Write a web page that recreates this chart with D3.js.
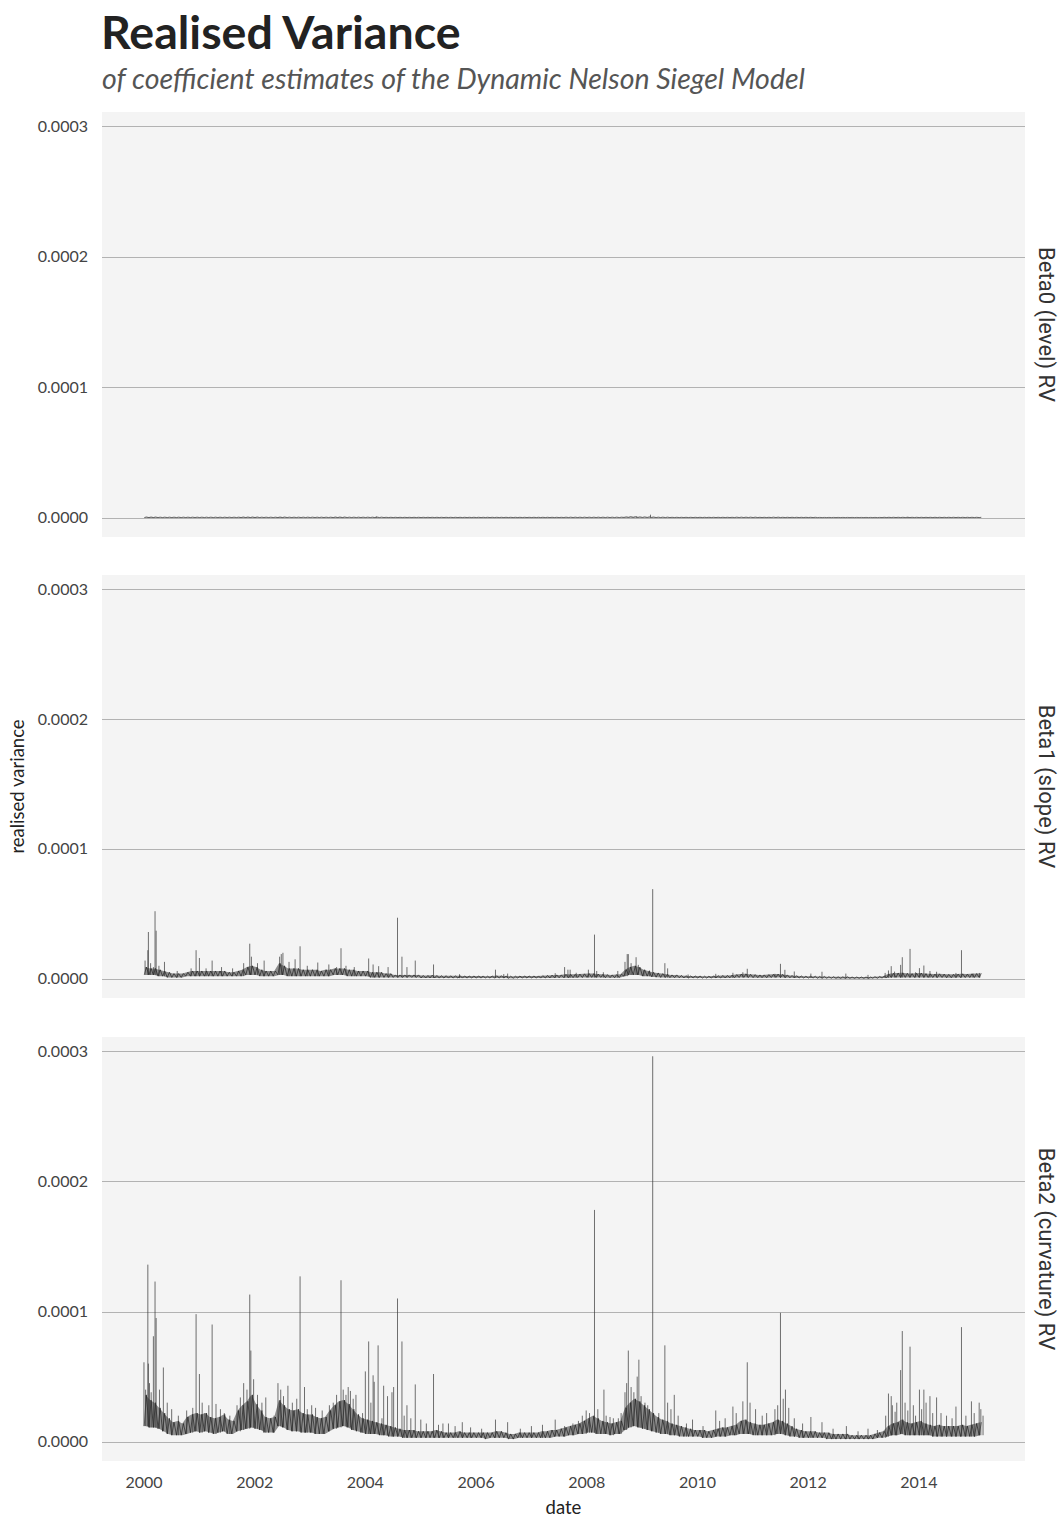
<!DOCTYPE html>
<html>
<head>
<meta charset="utf-8">
<script src="https://cdn.jsdelivr.net/npm/d3@7"></script>
<style>
  body { margin: 0; background: #fff; }
  .title { font-family: Lato; font-weight: 700; font-size: 46.5px; fill: #222; }
  .subtitle { font-family: Lato; font-style: italic; font-size: 28.5px; fill: #555; }
  .tick-label { font-family: Lato; font-size: 16px; fill: #444; }
  .axis-title { font-family: Lato; font-size: 18.5px; fill: #222; }
  .strip { font-family: Roboto; font-size: 22px; fill: #333; }
  .grid line { stroke: #b2b2b2; stroke-width: 1; }
  .band { fill: #8c8c8c; stroke: none; }
  .rv { fill: none; stroke: #111; stroke-width: 0.6; stroke-linejoin: round; }
  .spike { fill: none; stroke: #333; stroke-width: 0.7; }
</style>
</head>
<body>
<svg class="chart"></svg>
<script>
// values in units of 1e-6, one [low, high] pair per month, Jan 2000 .. Feb 2015
var facetLabels = ["Beta0 (level) RV", "Beta1 (slope) RV", "Beta2 (curvature) RV"];
var yTicks = [0, 0.0001, 0.0002, 0.0003];
var xTickYears = [2000, 2002, 2004, 2006, 2008, 2010, 2012, 2014];

var beta0Band = [
  [0.1,0.5],[0.1,0.5],[0.1,0.5],[0.1,0.4],[0.1,0.4],[0.1,0.4],[0.1,0.4],[0.1,0.4],[0.1,0.4],[0.1,0.4],[0.1,0.4],[0.1,0.4], // 2000
  [0.1,0.4],[0.1,0.4],[0.1,0.4],[0.1,0.4],[0.1,0.4],[0.1,0.4],[0.1,0.4],[0.1,0.4],[0.1,0.4],[0.1,0.5],[0.1,0.5],[0.1,0.5],
  [0.1,0.5],[0.1,0.4],[0.1,0.4],[0.1,0.4],[0.1,0.4],[0.1,0.5],[0.1,0.5],[0.1,0.4],[0.1,0.4],[0.1,0.4],[0.1,0.4],[0.1,0.4],
  [0.1,0.4],[0.1,0.4],[0.1,0.4],[0.1,0.4],[0.1,0.4],[0.1,0.5],[0.1,0.5],[0.1,0.5],[0.1,0.4],[0.1,0.4],[0.1,0.4],[0.1,0.4],
  [0.1,0.4],[0.1,0.4],[0.1,0.5],[0.1,0.4],[0.1,0.3],[0.1,0.3],[0.1,0.3],[0.1,0.3],[0.1,0.3],[0.1,0.3],[0.1,0.3],[0.1,0.3], // 2004
  [0.1,0.3],[0.1,0.3],[0.1,0.3],[0.1,0.3],[0.1,0.3],[0.1,0.3],[0.1,0.3],[0.1,0.3],[0.1,0.3],[0.1,0.3],[0.1,0.3],[0.1,0.3],
  [0.1,0.3],[0.1,0.3],[0.1,0.3],[0.1,0.3],[0.1,0.3],[0.1,0.3],[0.1,0.3],[0.1,0.3],[0.1,0.3],[0.1,0.3],[0.1,0.3],[0.1,0.3],
  [0.1,0.3],[0.1,0.3],[0.1,0.3],[0.1,0.3],[0.1,0.3],[0.1,0.3],[0.1,0.3],[0.1,0.4],[0.1,0.4],[0.1,0.4],[0.1,0.4],[0.1,0.4],
  [0.1,0.4],[0.1,0.4],[0.1,0.4],[0.1,0.4],[0.1,0.4],[0.1,0.4],[0.1,0.4],[0.1,0.4],[0.2,0.6],[0.2,0.7],[0.2,0.7],[0.2,0.6], // 2008
  [0.2,0.6],[0.2,0.6],[0.2,0.5],[0.1,0.4],[0.1,0.4],[0.1,0.4],[0.1,0.3],[0.1,0.3],[0.1,0.3],[0.1,0.3],[0.1,0.3],[0.1,0.3],
  [0.1,0.3],[0.1,0.3],[0.1,0.3],[0.1,0.3],[0.1,0.3],[0.1,0.3],[0.1,0.3],[0.1,0.3],[0.1,0.4],[0.1,0.4],[0.1,0.4],[0.1,0.4],
  [0.1,0.4],[0.1,0.3],[0.1,0.3],[0.1,0.3],[0.1,0.4],[0.1,0.4],[0.1,0.3],[0.1,0.3],[0.1,0.3],[0.1,0.3],[0.1,0.3],[0.1,0.3],
  [0.1,0.3],[0.1,0.3],[0.1,0.2],[0.1,0.2],[0.1,0.2],[0.1,0.2],[0.1,0.2],[0.1,0.2],[0.1,0.2],[0.1,0.2],[0.1,0.2],[0.1,0.2], // 2012
  [0.1,0.2],[0.1,0.2],[0.1,0.2],[0.1,0.2],[0.1,0.3],[0.1,0.3],[0.1,0.3],[0.1,0.3],[0.1,0.3],[0.1,0.3],[0.1,0.3],[0.1,0.3],
  [0.1,0.3],[0.1,0.3],[0.1,0.3],[0.1,0.3],[0.1,0.3],[0.1,0.3],[0.1,0.3],[0.1,0.3],[0.1,0.3],[0.1,0.3],[0.1,0.3],[0.1,0.3],
  [0.1,0.3],[0.1,0.3]
];
var beta0Spikes = [[2004.2, 0.8], [2008.9, 0.9], [2009.15, 2.3], [2013.8, 0.6]];

var beta1Band = [
  [3,9],[3,8],[3,8],[2,7],[2,6],[1,5],[1,4],[1,4],[1,4],[2,5],[2,6],[2,6], // 2000
  [2,6],[2,6],[2,6],[2,6],[2,6],[2,6],[2,5],[2,5],[2,6],[2,7],[3,9],[3,10],
  [3,9],[2,7],[2,6],[2,6],[2,6],[3,12],[3,10],[2,8],[2,8],[2,8],[2,7],[2,7],
  [2,7],[2,7],[2,6],[2,7],[2,7],[3,8],[3,8],[3,8],[2,7],[2,7],[2,6],[2,6],
  [2,6],[1,5],[1,5],[1,5],[1,4],[1,4],[1,3],[1,3],[1,3],[1,3],[1,3],[1,3], // 2004
  [0.6,2.6],[0.6,2.6],[0.6,2.8],[0.6,2.6],[0.5,2.4],[0.5,2.4],[0.5,2.3],[0.5,2.3],[0.5,2.4],[0.5,2.2],[0.5,2.2],[0.5,2.2],
  [0.5,2.2],[0.5,2.2],[0.5,2],[0.5,2.2],[0.5,2.4],[0.5,2.4],[0.5,2.2],[0.4,2],[0.4,2],[0.5,2.1],[0.5,2.2],[0.5,2.2],
  [0.5,2.2],[0.5,2.2],[0.5,2.4],[0.6,2.6],[0.6,2.8],[0.7,3],[0.7,3],[0.8,3.4],[0.8,3.4],[0.8,3.4],[0.9,3.6],[0.9,3.8],
  [1,4],[1,4],[1,3.6],[1,3.4],[0.8,3.2],[0.8,3],[0.8,3.2],[0.9,3.4],[2,7],[3,9],[3,10],[3,9], // 2008
  [2,7],[2,6],[1.5,5],[1.2,4.5],[1,4],[1,3.5],[0.8,3],[0.8,3],[0.7,2.6],[0.6,2.4],[0.6,2.2],[0.6,2.2],
  [0.5,2.2],[0.5,2],[0.5,2],[0.5,2.2],[0.6,2.4],[0.6,2.6],[0.6,2.6],[0.7,2.8],[0.8,3.2],[0.9,3.6],[1,3.8],[0.9,3.4],
  [0.8,3.2],[0.8,3],[0.8,3],[0.8,3.2],[0.9,3.4],[1,3.6],[0.9,3.4],[0.8,3],[0.7,2.6],[0.6,2.4],[0.6,2.2],[0.5,2],
  [0.5,2],[0.5,2],[0.4,1.8],[0.4,1.8],[0.4,1.6],[0.4,1.6],[0.3,1.5],[0.3,1.5],[0.3,1.5],[0.3,1.4],[0.3,1.4],[0.3,1.4], // 2012
  [0.3,1.4],[0.3,1.4],[0.4,1.6],[0.4,1.8],[0.5,2],[0.8,3.6],[1,4.2],[1,4.4],[1,4.6],[1,4.2],[1,4],[1,4.2],
  [1,4.4],[1,4],[0.9,3.8],[0.9,3.6],[0.9,3.8],[0.9,3.6],[0.8,3.4],[0.8,3.4],[0.9,3.6],[0.9,3.8],[0.9,3.6],[0.9,3.8],
  [1,4],[1,4.2]
];
var beta1Spikes = [
  [2000.02,14],[2000.07,22],[2000.08,36],[2000.12,12],[2000.17,9],[2000.20,52],[2000.22,37],[2000.27,10],[2000.37,13],
  [2000.60,6],[2000.85,8],[2000.94,22],[2001.00,16],[2001.12,8],[2001.23,14],[2001.40,9],[2001.60,8],[2001.80,12],
  [2001.91,27],[2001.94,17],[2002.05,12],[2002.17,14],[2002.45,17],[2002.48,19],[2002.51,20],[2002.62,13],[2002.73,15],
  [2002.82,25],[2002.95,10],[2003.14,12.5],[2003.34,11],[2003.48,9],[2003.56,23.5],[2003.65,10],[2003.80,9],[2004.06,15.6],
  [2004.14,11],[2004.24,9.7],[2004.41,9],[2004.58,47],[2004.66,17],[2004.75,9],[2004.90,14],[2005.23,11],[2005.70,3.5],
  [2006.35,7],[2006.50,3.6],[2006.57,4],[2007.43,4.3],[2007.60,9],[2007.66,7],[2007.70,7],[2007.81,4.6],[2008.03,7],
  [2008.14,34],[2008.18,6],[2008.30,5],[2008.56,6],[2008.69,13],[2008.73,19],[2008.75,19],[2008.80,12],[2008.89,16.6],
  [2008.93,10.7],[2009.03,6.4],[2009.13,6.4],[2009.19,69],[2009.41,12],[2009.46,8],[2009.83,3.3],[2010.33,3.8],
  [2010.64,4.6],[2010.82,5],[2010.90,7.7],[2011.40,3.8],[2011.50,11.5],[2011.58,6.9],[2011.75,5.6],[2012.05,4],
  [2012.25,5.4],[2012.68,4],[2013.08,3],[2013.39,4.5],[2013.45,6.4],[2013.50,9.7],[2013.56,5.5],[2013.67,10.7],
  [2013.70,16.6],[2013.84,23],[2013.94,5],[2014.01,8.2],[2014.09,10.2],[2014.20,6],[2014.32,5.4],[2014.67,4.5],
  [2014.77,22],[2014.98,4],[2015.10,4.5]
];

var beta2Band = [
  [12,36],[11,32],[11,30],[10,26],[8,22],[6,18],[5,15],[5,16],[5,14],[6,19],[7,21],[8,22], // 2000
  [7,21],[8,22],[7,19],[6,18],[7,19],[8,21],[6,17],[6,16],[8,24],[9,28],[10,31],[11,36],
  [10,29],[9,24],[7,19],[7,18],[7,19],[12,32],[11,28],[9,25],[8,24],[8,25],[7,22],[7,21],
  [7,21],[6,19],[6,18],[6,19],[8,24],[10,28],[11,31],[12,32],[11,29],[9,25],[8,21],[7,18],
  [6,17],[6,16],[6,15],[5,14],[5,13],[4,12],[4,11],[4,10],[3,9],[3,9],[3,9],[3,8], // 2004
  [3,8],[3,8],[3,8],[3,9],[3,8],[3,7],[3,7],[3,7],[3,8],[3,7],[3,7],[3,7],
  [3,7],[3,7],[2,7],[3,7],[3,8],[3,8],[3,7],[2,6],[2,6],[3,7],[3,7],[3,7],
  [3,7],[3,7],[3,8],[3,8],[3,9],[4,9],[4,10],[4,11],[5,12],[5,13],[6,14],[6,16],
  [7,18],[7,20],[6,18],[6,16],[6,15],[5,14],[6,15],[6,16],[9,26],[11,30],[12,33],[11,31], // 2008
  [10,28],[9,25],[8,22],[7,19],[6,17],[6,16],[5,14],[5,13],[4,12],[4,11],[4,10],[4,9],
  [4,9],[3,9],[3,8],[3,9],[4,10],[4,11],[4,11],[5,12],[5,13],[6,16],[6,17],[6,15],
  [5,14],[5,13],[5,13],[5,14],[5,15],[6,17],[6,16],[5,14],[4,12],[4,10],[3,9],[3,8],
  [3,8],[3,8],[3,7],[3,7],[2,7],[2,6],[2,6],[2,6],[2,6],[2,5],[2,5],[2,5], // 2012
  [2,5],[2,5],[2,6],[3,7],[3,8],[4,12],[5,14],[5,15],[6,17],[5,15],[5,14],[5,15],
  [5,16],[5,14],[5,13],[4,12],[4,13],[4,12],[4,12],[4,12],[4,12],[4,13],[4,12],[4,13],
  [4,14],[5,15]
];
var beta2Spikes = [
  [2000.00,61],[2000.03,40],[2000.07,136],[2000.08,60],[2000.10,45],[2000.13,38],[2000.17,81],[2000.20,123],
  [2000.22,95],[2000.28,40],[2000.35,57],[2000.42,30],[2000.50,25],[2000.62,20],[2000.77,24],[2000.88,26],
  [2000.94,98],[2001.00,52],[2001.05,30],[2001.10,22],[2001.17,28],[2001.23,90],[2001.30,29],[2001.38,25],
  [2001.45,22],[2001.55,20],[2001.68,28],[2001.74,34],[2001.80,45],[2001.86,40],[2001.91,113],[2001.93,70],
  [2001.98,48],[2002.05,36],[2002.13,30],[2002.20,34],[2002.35,20],[2002.42,45],[2002.47,40],[2002.52,35],
  [2002.60,43],[2002.68,30],[2002.76,33],[2002.82,127],[2002.90,42],[2002.95,25],[2003.03,28],[2003.10,26],
  [2003.22,24],[2003.35,28],[2003.42,30],[2003.48,36],[2003.56,124],[2003.60,40],[2003.65,36],[2003.69,42],
  [2003.73,39],[2003.78,33],[2003.83,36],[2003.95,22],[2004.00,54],[2004.06,77],[2004.10,30],[2004.14,51],
  [2004.16,46],[2004.23,74],[2004.30,18],[2004.33,43],[2004.40,35],[2004.48,38],[2004.51,42],[2004.58,110],
  [2004.66,77],[2004.70,20],[2004.75,28],[2004.82,18],[2004.90,44],[2005.00,17],[2005.10,14],[2005.23,52],
  [2005.32,13],[2005.40,14],[2005.50,14],[2005.62,12],[2005.75,15],[2005.90,11],[2006.10,10],[2006.35,17],
  [2006.57,15],[2006.80,10],[2007.00,12],[2007.20,13],[2007.43,17],[2007.60,12],[2007.75,14],[2007.85,16],
  [2007.92,20],[2007.99,24],[2008.05,22],[2008.14,178],[2008.20,25],[2008.31,40],[2008.35,20],[2008.42,19],
  [2008.48,18],[2008.57,18],[2008.62,22],[2008.69,38],[2008.72,45],[2008.75,70],[2008.80,42],[2008.85,38],
  [2008.91,50],[2008.94,63],[2008.98,35],[2009.05,30],[2009.10,28],[2009.19,296],[2009.30,22],[2009.41,74],
  [2009.46,30],[2009.52,25],[2009.58,36],[2009.65,20],[2009.80,14],[2009.91,17],[2010.10,12],[2010.33,24],
  [2010.40,16],[2010.50,18],[2010.64,27],[2010.70,22],[2010.82,31],[2010.90,61],[2010.95,30],[2011.05,25],
  [2011.17,20],[2011.25,22],[2011.40,25],[2011.45,28],[2011.50,99],[2011.55,33],[2011.59,40],[2011.65,26],
  [2011.75,18],[2011.90,14],[2012.05,19],[2012.25,15],[2012.45,10],[2012.69,12],[2012.90,8],[2013.08,10],
  [2013.25,9],[2013.40,20],[2013.45,37],[2013.50,35],[2013.52,28],[2013.57,23],[2013.60,30],[2013.67,55],
  [2013.70,85],[2013.75,30],[2013.80,24],[2013.84,73],[2013.90,28],[2013.94,20],[2014.01,40],[2014.05,25],
  [2014.09,40],[2014.13,30],[2014.20,35],[2014.25,22],[2014.32,34],[2014.40,22],[2014.50,20],[2014.60,18],
  [2014.67,27],[2014.77,88],[2014.85,20],[2014.95,31],[2015.00,22],[2015.09,30],[2015.12,25],[2015.16,20]
];

var width = 1064, height = 1517;
var margin = {left: 102, right: 1025};
var panels = [{top: 112, bottom: 537}, {top: 575, bottom: 998}, {top: 1037, bottom: 1461}];
var months = d3.timeMonth.range(new Date(2000, 0, 1), new Date(2015, 2, 1));

function fromYear(y) {
    var yr = Math.floor(y), a = new Date(yr, 0, 1), b = new Date(yr + 1, 0, 1);
    return new Date(+a + (y - yr) * (b - a));
}

function buildSeries(band, spikes) {
    var env = months.map(function(m, i) {
        return {date: new Date(m.getFullYear(), m.getMonth(), 10), lo: band[i][0] * 1e-6, hi: band[i][1] * 1e-6};
    });
    var zig = [];
    months.forEach(function(m, i) {
        zig.push({date: new Date(m.getFullYear(), m.getMonth(), 3), v: band[i][0] * 1e-6});
        zig.push({date: new Date(m.getFullYear(), m.getMonth(), 17), v: band[i][1] * 1e-6});
    });
    var sp = spikes.map(function(s) {
        var d = fromYear(s[0]);
        var i = Math.max(0, Math.min(band.length - 1, (d.getFullYear() - 2000) * 12 + d.getMonth()));
        return {date: d, base: band[i][0] * 1e-6, v: s[1] * 1e-6};
    });
    return {env: env, zig: zig, spikes: sp};
}

var series = [
    buildSeries(beta0Band, beta0Spikes),
    buildSeries(beta1Band, beta1Spikes),
    buildSeries(beta2Band, beta2Spikes)
];

var allDates = d3.merge(series.map(function(s) { return s.zig.map(function(d) { return d.date; }).concat(s.spikes.map(function(d) { return d.date; })); }));
var allVals = d3.merge(series.map(function(s) { return s.zig.map(function(d) { return d.v; }).concat(s.spikes.map(function(d) { return d.v; })); }));
var xExt = d3.extent(allDates);
var yMax = d3.max(allVals), yMin = 0;
var xPad = (xExt[1] - xExt[0]) * 0.05, yPad = (yMax - yMin) * 0.05;

var x = d3.scaleTime()
    .domain([new Date(+xExt[0] - xPad), new Date(+xExt[1] + xPad)])
    .range([margin.left, margin.right]);

var chart = d3.select(".chart").attr("width", width).attr("height", height);
chart.append("rect").attr("width", width).attr("height", height).attr("fill", "#fff");

chart.append("text").attr("class", "title").attr("x", 101).attr("y", 49).text("Realised Variance");
chart.append("text").attr("class", "subtitle").attr("x", 102).attr("y", 89)
    .text("of coefficient estimates of the Dynamic Nelson Siegel Model");

panels.forEach(function(p, i) {
    var y = d3.scaleLinear().domain([yMin - yPad, yMax + yPad]).range([p.bottom, p.top]);
    var g = chart.append("g");
    var s = series[i];

    g.append("rect")
        .attr("x", margin.left).attr("y", p.top)
        .attr("width", margin.right - margin.left).attr("height", p.bottom - p.top)
        .attr("fill", "#f4f4f4");

    g.append("g").attr("class", "grid").selectAll("line")
        .data(yTicks)
        .enter().append("line")
        .attr("x1", margin.left).attr("x2", margin.right)
        .attr("y1", function(d) { return Math.round(y(d)) + 0.5; })
        .attr("y2", function(d) { return Math.round(y(d)) + 0.5; });

    g.append("g").selectAll("text")
        .data(yTicks)
        .enter().append("text")
        .attr("class", "tick-label")
        .attr("x", 88).attr("y", function(d) { return y(d); })
        .attr("text-anchor", "end").attr("dy", "0.35em")
        .text(d3.format(".4f"));

    var area = d3.area()
        .x(function(d) { return x(d.date); })
        .y0(function(d) { return y(d.lo); })
        .y1(function(d) { return y(d.hi); });
    g.append("path").attr("class", "band").attr("d", area(s.env));

    var line = d3.line()
        .x(function(d) { return x(d.date); })
        .y(function(d) { return y(d.v); });
    g.append("path").attr("class", "rv").attr("d", line(s.zig));

    g.append("g").selectAll("line")
        .data(s.spikes)
        .enter().append("line")
        .attr("class", "spike")
        .attr("x1", function(d) { return x(d.date); })
        .attr("x2", function(d) { return x(d.date); })
        .attr("y1", function(d) { return y(d.base); })
        .attr("y2", function(d) { return y(d.v); });

    var cy = (p.top + p.bottom) / 2;
    g.append("text").attr("class", "strip")
        .attr("transform", "translate(1039," + cy + ") rotate(90)")
        .attr("text-anchor", "middle")
        .text(facetLabels[i]);
});

chart.append("g").selectAll("text")
    .data(xTickYears)
    .enter().append("text")
    .attr("class", "tick-label")
    .attr("x", function(d) { return x(new Date(d, 0, 1)); })
    .attr("y", 1482).attr("dy", "0.35em")
    .attr("text-anchor", "middle")
    .text(function(d) { return d; });

chart.append("text").attr("class", "axis-title")
    .attr("x", (margin.left + margin.right) / 2).attr("y", 1514)
    .attr("text-anchor", "middle").text("date");

chart.append("text").attr("class", "axis-title")
    .attr("transform", "translate(24," + (panels[1].top + panels[1].bottom) / 2 + ") rotate(-90)")
    .attr("text-anchor", "middle").text("realised variance");
</script>
</body>
</html>
